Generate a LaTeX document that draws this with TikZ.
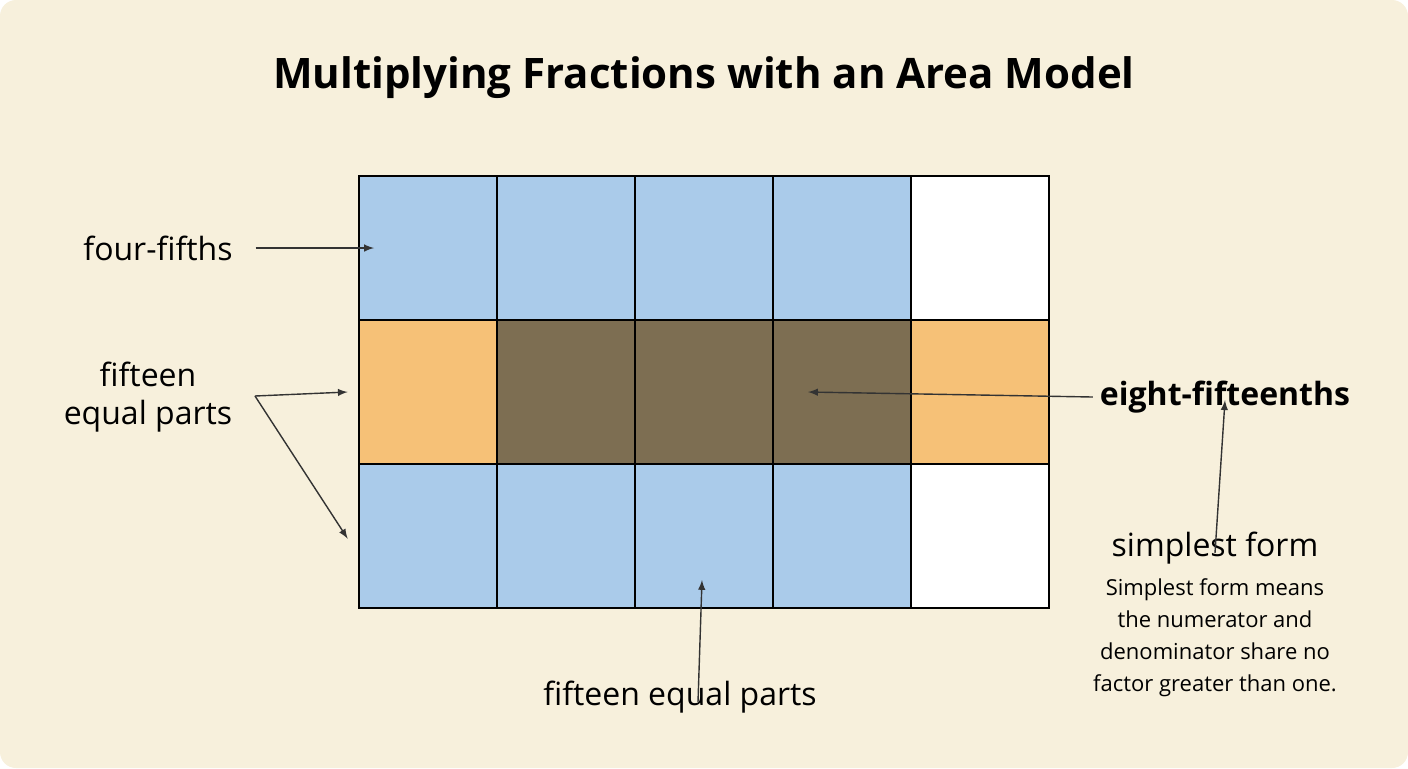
\documentclass[tikz,border=0pt]{standalone}
\usepackage{fontspec}
\setmainfont{Open Sans}
\usetikzlibrary{positioning}
\definecolor{paper}{HTML}{F7F0DC}
\definecolor{cellblue}{HTML}{AACBEA}
\definecolor{cellorange}{HTML}{F6C177}
\definecolor{celldark}{HTML}{7D6E52}
\begin{document}
\begin{tikzpicture}[x=0.5pt,y=-0.5pt]
\tikzstyle{every node}=[font=\fontsize{16}{19}\selectfont]
\tikzstyle{cell}=[draw=black,line width=1.3pt,minimum width=69pt,minimum height=72pt,inner sep=0pt]
\tikzstyle{pointer}=[-latex,line width=0.7pt,black!80]

% Background
\useasboundingbox (0,0) rectangle (1408,768);
\fill[paper,rounded corners=8pt] (0,0) rectangle (1408,768);

% Title
\node[font=\fontsize{21}{25}\selectfont\bfseries] (title) at (704,78) {Multiplying Fractions with an Area Model};

% Draw the grid cells
\foreach \c in {1,...,5}{
  \foreach \r in {1,2,3}{
    \pgfmathsetmacro{\cx}{359+69+(\c-1)*138}
    \pgfmathsetmacro{\cy}{176+72+(\r-1)*144}
    \ifnum\c=5 \def\col{white}\else\def\col{cellblue}\fi
    \ifnum\r=2 \ifnum\c=1 \def\col{cellorange}\else\ifnum\c=5 \def\col{cellorange}\else\def\col{celldark}\fi\fi\fi
    \node[cell,fill=\col] (c\c\r) at (\cx,\cy) {};
  }
}

% Labels on the left
\node (fourfifths) at (158,248) {four-fifths};
\node[align=center] (fifteenleft) at (148,397) {fifteen\\equal parts};
\coordinate (splitleft) at (255,396);
\draw[pointer] (fourfifths.east) ++(8pt,0) -- ([xshift=-27pt]c11.center);
\draw[pointer] (splitleft) -- ([xshift=-5pt]c12.west);
\draw[pointer] (splitleft) -- ([xshift=-5pt,yshift=-38pt]c13.north west);

% Labels on the right
\node[font=\fontsize{16}{19}\selectfont\bfseries] (eightfifteenths) at (1225,397) {eight-fifteenths};
\draw[pointer] (eightfifteenths.west) -- ([xshift=-17pt]c42.center);
\node (simplest) at (1215,548) {simplest form};
\draw[pointer] (simplest.north) ++(0,-14pt) -- ([yshift=10pt]eightfifteenths.south);
\node[align=center,font=\fontsize{11}{16}\selectfont,below=0pt of simplest] (simplestnote)
  {Simplest form means\\the numerator and\\denominator share no\\factor greater than one.};

% Label below
\node (fifteenbottom) at (680,697) {fifteen equal parts};
\draw[pointer] ([xshift=9pt,yshift=-14pt]fifteenbottom.north) -- ([xshift=-1pt,yshift=-22pt]c33.center);
\end{tikzpicture}
\end{document}
